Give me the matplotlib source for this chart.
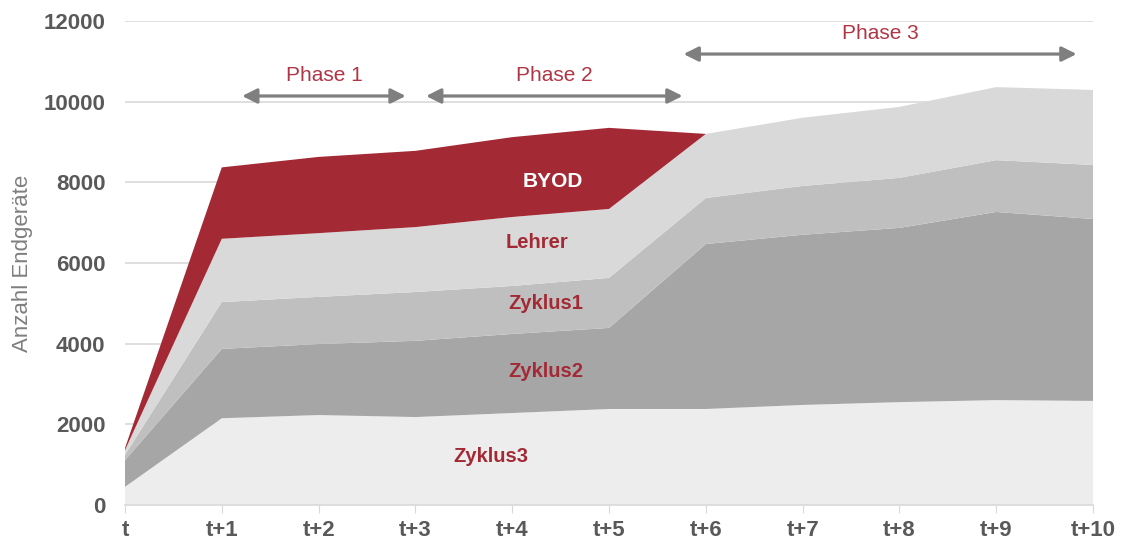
import matplotlib
matplotlib.use("Agg")
import matplotlib.pyplot as plt

plt.rcParams["font.family"] = ["Liberation Sans", "DejaVu Sans"]

# Daten
zeit = ["t", "t+1", "t+2", "t+3", "t+4", "t+5", "t+6", "t+7", "t+8", "t+9", "t+10"]
zyklus3 = [450, 2150, 2230, 2180, 2280, 2380, 2380, 2480, 2550, 2600, 2580]
zyklus2 = [660, 1720, 1760, 1890, 1960, 2010, 4090, 4220, 4320, 4665, 4510]
zyklus1 = [130, 1160, 1170, 1210, 1190, 1240, 1140, 1210, 1240, 1285, 1340]
lehrer = [120, 1570, 1580, 1610, 1710, 1710, 1590, 1690, 1760, 1810, 1860]
byod = [50, 1770, 1890, 1890, 1980, 2010, 0, 0, 0, 0, 0]

phasen = ["Phase 1", "Phase 2", "Phase 3"]

rot = "#a32a35"
grau_text = "#595959"

fig = plt.figure(figsize=(11.25, 5.42), dpi=100)
ax = fig.add_axes([0.1111, 0.0683, 0.8605, 0.893])

x = list(range(len(zeit)))
ax.stackplot(x, zyklus3, zyklus2, zyklus1, lehrer, byod,
             colors=["#ededed", "#a6a6a6", "#bfbfbf", "#d9d9d9", rot],
             linewidth=0, zorder=2)

ax.set_xlim(0, 10)
ax.set_ylim(0, 12000)
ax.set_yticks(range(0, 12001, 2000))
ax.set_xticks(x)
ax.set_xticklabels(zeit)
ax.yaxis.grid(True, color="#d9d9d9", linewidth=1.2, zorder=0)
ax.set_axisbelow(True)
for s in ["top", "right", "left"]:
    ax.spines[s].set_visible(False)
ax.spines["bottom"].set_color("#d9d9d9")
ax.spines["bottom"].set_linewidth(1.2)
ax.spines["bottom"].set_zorder(3)
ax.tick_params(axis="y", length=0, pad=14, labelsize=16, labelcolor=grau_text)
ax.tick_params(axis="x", length=6, color="#d9d9d9", pad=5, labelsize=16, labelcolor=grau_text)
for lab in ax.get_xticklabels() + ax.get_yticklabels():
    lab.set_fontweight("bold")
ax.set_ylabel("Anzahl Endgeräte", fontsize=16, color="#7f7f7f", labelpad=8)

# Schichtbeschriftungen
ax.text(4.42, 8030, "BYOD", color="white", fontsize=15, fontweight="bold", ha="center", va="center", zorder=4)
ax.text(4.26, 6520, "Lehrer", color=rot, fontsize=14.5, fontweight="bold", ha="center", va="center", zorder=4)
ax.text(4.35, 4985, "Zyklus1", color=rot, fontsize=14.5, fontweight="bold", ha="center", va="center", zorder=4)
ax.text(4.35, 3300, "Zyklus2", color=rot, fontsize=14.5, fontweight="bold", ha="center", va="center", zorder=4)
ax.text(3.78, 1190, "Zyklus3", color=rot, fontsize=14.5, fontweight="bold", ha="center", va="center", zorder=4)

# Phasenpfeile
pfeile = [(1.21, 2.90, 10140), (3.11, 5.76, 10140), (5.77, 9.83, 11180)]
for name, (x0, x1, y) in zip(phasen, pfeile):
    ax.annotate("", xy=(x1, y), xytext=(x0, y),
                arrowprops=dict(arrowstyle="<|-|>", color="#7f7f7f", lw=2.3,
                                mutation_scale=22, shrinkA=0, shrinkB=0),
                zorder=5)
    ax.text((x0 + x1) / 2, y + 500, name, color="#b03545", fontsize=15,
            ha="center", va="center", zorder=5)

fig.savefig("out.png", dpi=100)
